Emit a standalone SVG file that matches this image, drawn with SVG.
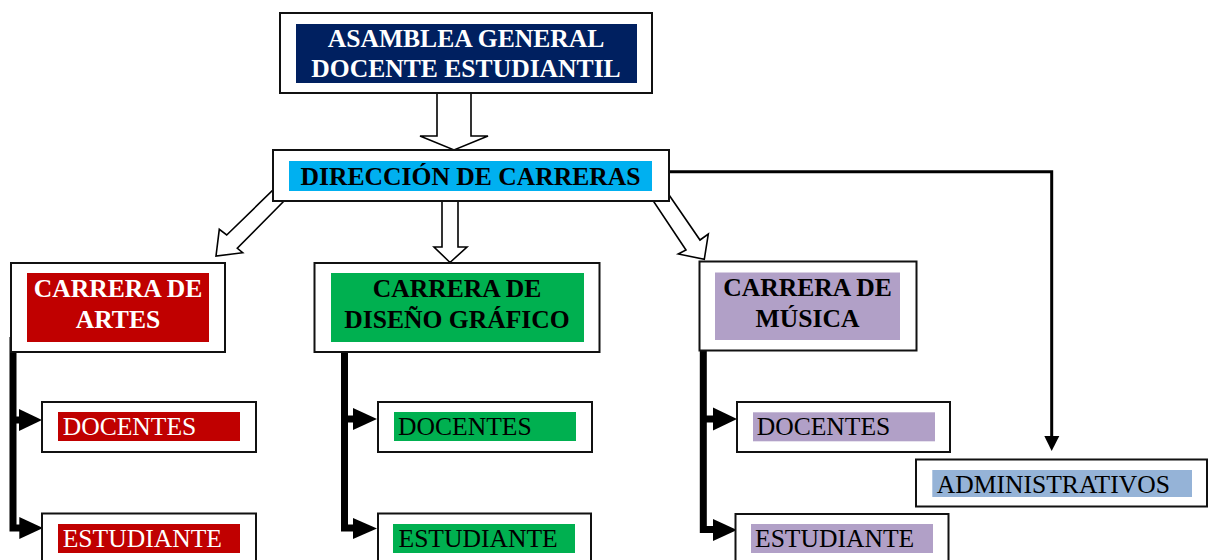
<svg xmlns="http://www.w3.org/2000/svg" width="1208" height="560" viewBox="0 0 1208 560">
<style>
.box{fill:#fff;stroke:#111;stroke-width:2}
.hollow{fill:#fff;stroke:#000;stroke-width:1.6;stroke-linejoin:miter}
.bar{fill:none;stroke:#000;stroke-width:7;stroke-linejoin:miter}
.head{fill:#000}
.line{fill:none;stroke:#000;stroke-width:3}
.tb{font-family:"Liberation Serif","Times New Roman",serif;font-weight:bold;font-size:25.6px;text-anchor:middle}
.tr{font-family:"Liberation Serif","Times New Roman",serif;font-size:25.6px}
.w{fill:#fff}
.k{fill:#000}
</style>
<rect width="1208" height="560" fill="#fff"/>
<g id="connectors">
<polygon class="hollow" points="437,93 471,93 471,136 488,136 454,150 420,136 437,136"/>
<polygon class="hollow" points="442,201 458,201 458,247 467,247 450,262.5 434,247 442,247"/>
<polygon class="hollow" points="273,190 283.5,201.5 237.3,248.3 242.7,252.7 216,256 219.3,229.3 226.7,235"/>
<polygon class="hollow" points="667,192 700,240 708.3,234 704.3,259.3 678.3,254 686,250 653.3,201"/>
<polyline class="line" points="667,171.7 1051.7,171.7 1051.7,438"/>
<polygon class="head" points="1044.3,436 1059.3,436 1051.7,451"/>
<polyline class="bar" points="13,337 13,528 21,528"/>
<line class="bar" x1="13" y1="420" x2="21" y2="420"/>
<polygon class="head" points="19,409 19,431 42,420"/>
<polygon class="head" points="19.3,517 19.3,539 43,528"/>
<polyline class="bar" points="344.5,337 344.5,528 355,528"/>
<line class="bar" x1="344.5" y1="419" x2="355" y2="419"/>
<polygon class="head" points="353,408 353,430 377,419"/>
<polygon class="head" points="353,518 353,539 377,528.5"/>
<polyline class="bar" points="703.3,338 703.3,529.5 715,529.5"/>
<line class="bar" x1="703.3" y1="419" x2="715" y2="419"/>
<polygon class="head" points="713,407.5 713,430.5 737,419"/>
<polygon class="head" points="713,519 713,541 737,530"/>
</g>
<g id="asamblea">
<rect class="box" x="280" y="13" width="372" height="80"/>
<rect x="296" y="24" width="341" height="59" fill="#002060"/>
<text class="tb w" x="466" y="47">ASAMBLEA GENERAL</text>
<text class="tb w" x="466" y="77">DOCENTE ESTUDIANTIL</text>
</g>
<g id="direccion">
<rect class="box" x="273" y="150" width="396" height="51"/>
<rect x="289" y="161" width="363" height="30" fill="#00B0F0"/>
<text class="tb k" x="470.5" y="185">DIRECCIÓN DE CARRERAS</text>
</g>
<g id="artes">
<rect class="box" x="11" y="263" width="214" height="89"/>
<rect x="27" y="273" width="182" height="69" fill="#C00000"/>
<text class="tb w" x="118" y="297">CARRERA DE</text>
<text class="tb w" x="118" y="328">ARTES</text>
</g>
<g id="diseno">
<rect class="box" x="314.5" y="263" width="285" height="89"/>
<rect x="331" y="273" width="253" height="69" fill="#00B050"/>
<text class="tb k" x="457" y="297">CARRERA DE</text>
<text class="tb k" x="457" y="327.5">DISEÑO GRÁFICO</text>
</g>
<g id="musica">
<rect class="box" x="699.5" y="261.5" width="217" height="89"/>
<rect x="715" y="272.5" width="185" height="67.5" fill="#B1A0C7"/>
<text class="tb k" x="807.5" y="296">CARRERA DE</text>
<text class="tb k" x="807.5" y="327">MÚSICA</text>
</g>
<g id="artes-docentes">
<rect class="box" x="42" y="402" width="214" height="50"/>
<rect x="58" y="412" width="182" height="29" fill="#C00000"/>
<text class="tr w" x="62.7" y="435">DOCENTES</text>
</g>
<g id="artes-estudiante">
<rect class="box" x="42" y="513.5" width="214" height="50"/>
<rect x="58" y="524" width="182" height="29" fill="#C00000"/>
<text class="tr w" x="62.7" y="546.7">ESTUDIANTE</text>
</g>
<g id="diseno-docentes">
<rect class="box" x="378" y="402" width="214" height="50"/>
<rect x="394" y="412" width="182" height="29" fill="#00B050"/>
<text class="tr k" x="398" y="435">DOCENTES</text>
</g>
<g id="diseno-estudiante">
<rect class="box" x="378" y="513.5" width="213" height="50"/>
<rect x="393" y="524" width="182" height="29" fill="#00B050"/>
<text class="tr k" x="398.5" y="546.5">ESTUDIANTE</text>
</g>
<g id="musica-docentes">
<rect class="box" x="737" y="402" width="213" height="50"/>
<rect x="753" y="412.3" width="182" height="29" fill="#B1A0C7"/>
<text class="tr k" x="756.7" y="435.3">DOCENTES</text>
</g>
<g id="musica-estudiante">
<rect class="box" x="735.5" y="514" width="213" height="50"/>
<rect x="751" y="524" width="182" height="29" fill="#B1A0C7"/>
<text class="tr k" x="755" y="547.3">ESTUDIANTE</text>
</g>
<g id="administrativos">
<rect class="box" x="916" y="459.5" width="291" height="47"/>
<rect x="932.3" y="470" width="259.7" height="27" fill="#95B3D7"/>
<text class="tr k" x="936.7" y="492.7">ADMINISTRATIVOS</text>
</g>
</svg>
